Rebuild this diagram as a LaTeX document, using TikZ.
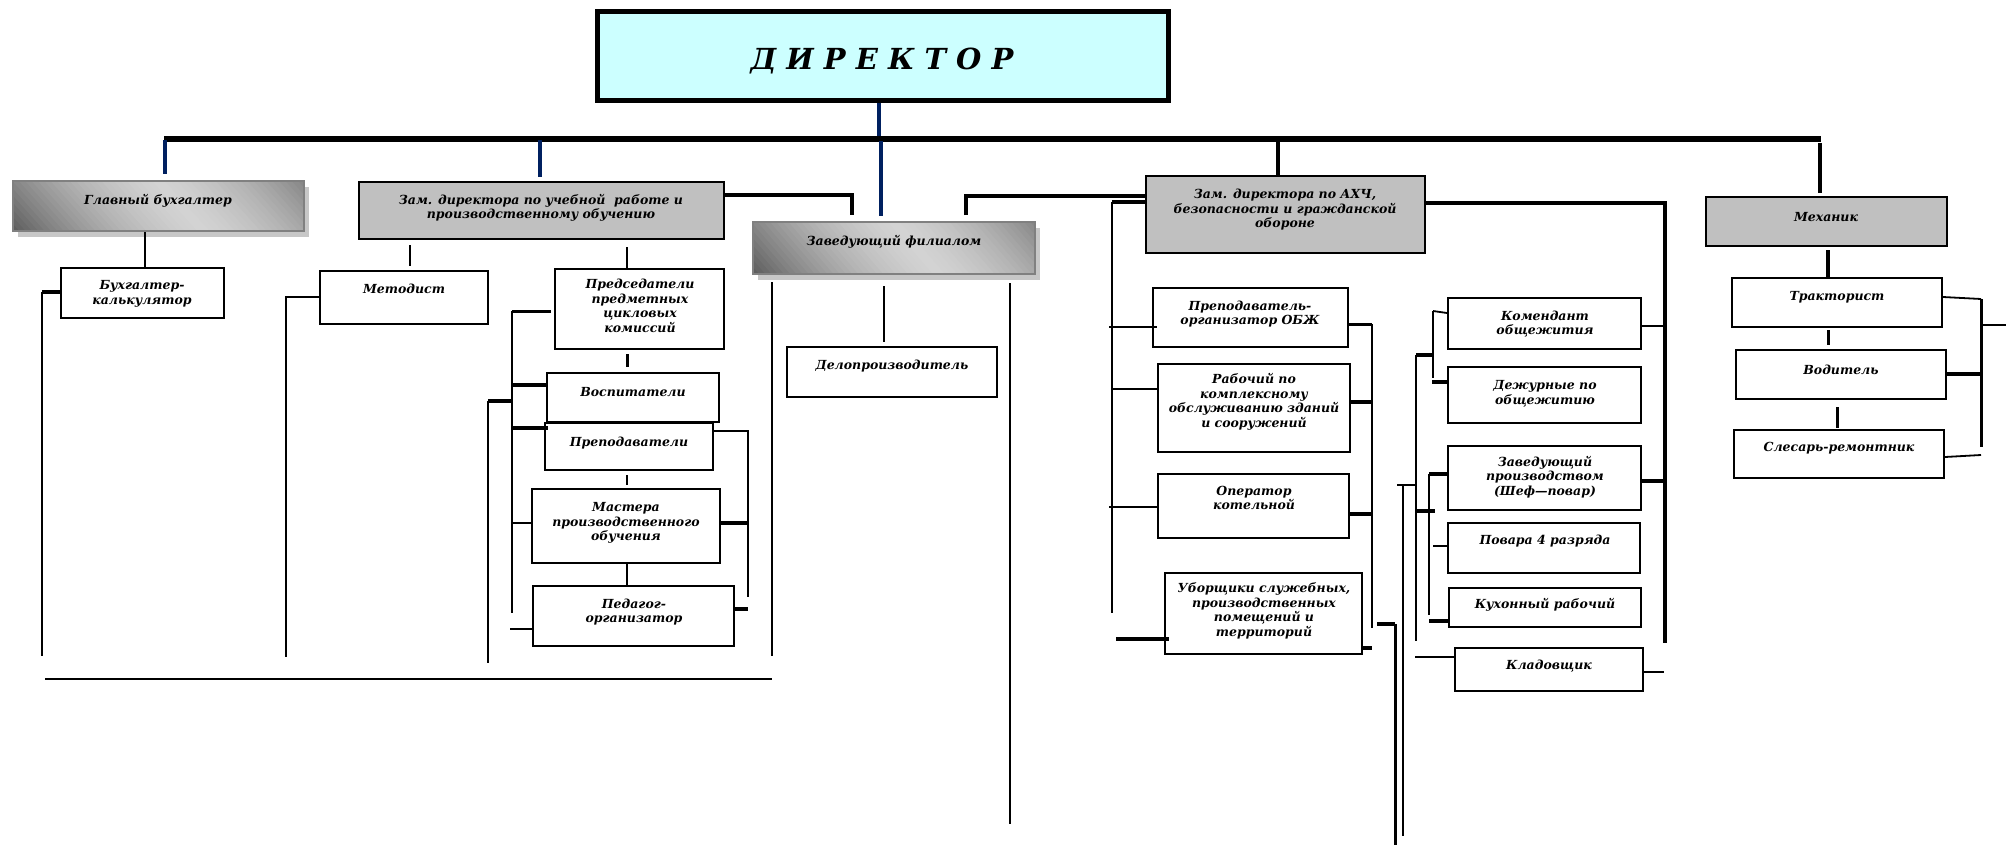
\documentclass[tikz,border=0pt]{standalone}
\usepackage{fontspec}
\setmainfont{DejaVu Serif}
\usetikzlibrary{fit}

\definecolor{dircyan}{HTML}{CCFFFF}
\definecolor{boxgrey}{HTML}{C0C0C0}
\definecolor{navyline}{RGB}{0,32,96}

\tikzset{
  box/.style={draw, line width=2pt, inner sep=0pt, fill=white},
  greybox/.style={box, fill=boxgrey},
  shadebox/.style={draw=black!50, line width=2pt, inner sep=0pt},
  boxshadow/.style={fill=black!22},
  lbl/.style={font=\bfseries\itshape\fontsize{12.5}{14.5}\selectfont, align=center, inner sep=0pt},
  thn/.style={line width=1.8pt},
  thk/.style={line width=3.5pt},
  bar/.style={line width=6pt},
  blueline/.style={line width=4pt, draw=navyline},
}

% metallic fill of a rectangle: x1, y1 (top), x2, y2 (bottom)
\newcommand\metalfill[4]{%
  \begin{scope}
    \clip (#1,#2) rectangle (#3,#4);
    \pgfmathsetmacro\sw{(#3-#1+90)/60}
    \foreach \i in {0,...,59} {
      \pgfmathsetmacro\av{abs(2*\i/59-1)}
      \pgfmathsetmacro\shadeval{17+46*(0.35*\av+0.65*\av*\av)}
      \pgfmathsetmacro\sx{#1-45+\sw*\i}
      \fill[black!\shadeval] (\sx,#2) -- ++(\sw+1,0) -- ++(45,{#4-#2}) -- ++(-\sw-1,0) -- cycle;
    }
  \end{scope}}

\begin{document}
\begin{tikzpicture}[x=1pt, y=-1pt]
  \useasboundingbox (0,0) rectangle (2006,854);

  % director
  \node[box, fill=dircyan, line width=5pt, fit={(597,11) (1168,100)}] (director) {};
  \node[lbl, font=\bfseries\itshape\fontsize{29}{34}\selectfont] (director-t) at (882,61) {Д И Р Е К Т О Р};
  \draw[blueline] (director.south -| 879,0) -- (879,136);
  \draw[bar] (164,139) -- (1821,139);

  % first level
  \fill[boxshadow] (18,187) rectangle (309,237);
  \metalfill{13}{181}{304}{231}
  \node[shadebox, fit={(13,181) (304,231)}] (glbuh) {};
  \node[lbl] (glbuh-t) at (158,201) {Главный бухгалтер};
  \node[greybox, fit={(359,182) (724,239)}] (zamuch) {};
  \node[lbl] (zamuch-t) at (541,208) {Зам. директора по учебной\ \ работе и\\производственному обучению};
  \fill[boxshadow] (758,228) rectangle (1040,280);
  \metalfill{753}{222}{1035}{274}
  \node[shadebox, fit={(753,222) (1035,274)}] (zavfil) {};
  \node[lbl] (zavfil-t) at (894,242) {Заведующий филиалом};
  \node[greybox, fit={(1146,176) (1425,253)}] (zamahch) {};
  \node[lbl] (zamahch-t) at (1285,210) {Зам. директора по АХЧ,\\безопасности и гражданской\\обороне};
  \node[greybox, fit={(1706,197) (1947,246)}] (mehanik) {};
  \node[lbl] (mehanik-t) at (1826,217) {Механик};

  \draw[blueline] (165,140) -- (165,174);
  \draw[blueline] (540,140) -- (540,177);
  \draw[blueline] (881,141) -- (881,216);
  \draw[line width=4pt] (1278,141) -- (1278,176);
  \draw[line width=4pt] (1820,143) -- (1820,193);

  % accounting
  \node[box, fit={(61,268) (224,318)}] (buhkalk) {};
  \node[lbl] (buhkalk-t) at (142,294) {Бухгалтер-\\калькулятор};
  \draw[thn] (glbuh.south -| 145,0) -- (buhkalk.north -| 145,0);
  \draw[line width=4pt] (buhkalk.west |- 0,292) -- (42,292);
  \draw[thn] (42,292) -- (42,656);

  % teaching
  \node[box, fit={(320,271) (488,324)}] (metod) {};
  \node[lbl] (metod-t) at (404,289) {Методист};
  \draw[thn] (410,245) -- (410,266);
  \draw[line width=2.5pt] (metod.west |- 0,297) -- (286,297) -- (286,657);

  \node[box, fit={(555,269) (724,349)}] (predsed) {};
  \node[lbl] (predsed-t) at (640,306) {Председатели\\предметных\\цикловых\\комиссий};
  \node[box, fit={(547,373) (719,422)}] (vospit) {};
  \node[lbl] (vospit-t) at (633,392) {Воспитатели};
  \node[box, fit={(545,423) (713,470)}] (prepod) {};
  \node[lbl] (prepod-t) at (629,443) {Преподаватели};
  \node[box, fit={(532,489) (720,563)}] (master) {};
  \node[lbl] (master-t) at (626,523) {Мастера\\производственного\\обучения};
  \node[box, fit={(533,586) (734,646)}] (pedorg) {};
  \node[lbl] (pedorg-t) at (634,612) {Педагог-\\организатор};

  \draw[thn] (627,247) -- (predsed.north -| 627,0);
  \draw[line width=3pt] (627,354) -- (627,367);
  \draw[thn] (627,475) -- (627,485);
  \draw[thn] (master.south -| 627,0) -- (pedorg.north -| 627,0);

  \draw[line width=2.5pt] (512,311) -- (512,613);
  \draw[line width=3pt] (512,311) -- (551,311);
  \draw[line width=4pt] (512,385) -- (vospit.west |- 0,385);
  \draw[line width=4pt] (512,428) -- (548,428);
  \draw[line width=2.5pt] (512,523) -- (master.west |- 0,523);
  \draw[line width=4pt] (488,401) -- (512,401);
  \draw[line width=2.5pt] (488,401) -- (488,663);
  \draw[line width=2.5pt] (510,629) -- (pedorg.west |- 0,629);

  \draw[line width=2.5pt] (prepod.east |- 0,431) -- (748,431) -- (748,597);
  \draw[line width=4pt] (master.east |- 0,523) -- (748,523);
  \draw[line width=4pt] (pedorg.east |- 0,609) -- (748,609);
  \draw[thk] (zamuch.east |- 0,195) -- (852,195) -- (852,215);

  % branch
  \node[box, fit={(787,347) (997,397)}] (delopr) {};
  \node[lbl] (delopr-t) at (892,366) {Делопроизводитель};
  \draw[thn] (884,286) -- (884,342);
  \draw[thn] (772,282) -- (772,656);
  \draw[thn] (45,679) -- (772,679);
  \draw[thn] (1010,283) -- (1010,824);
  \draw[thk] (966,215) -- (966,196) -- (zamahch.west |- 0,196);

  % household
  \draw[line width=4pt] (zamahch.west |- 0,202) -- (1112,202);
  \draw[line width=2.5pt] (1112,202) -- (1112,613);
  \node[box, fit={(1153,288) (1348,347)}] (prepobzh) {};
  \node[lbl] (prepobzh-t) at (1250,314) {Преподаватель-\\организатор ОБЖ};
  \node[box, fit={(1158,364) (1350,452)}] (rabochiy) {};
  \node[lbl] (rabochiy-t) at (1254,402) {Рабочий по\\комплексному\\обслуживанию зданий\\и сооружений};
  \node[box, fit={(1158,474) (1349,538)}] (operator) {};
  \node[lbl] (operator-t) at (1254,498) {Оператор\\котельной};
  \node[box, fit={(1165,573) (1362,654)}] (uborsh) {};
  \node[lbl] (uborsh-t) at (1264,611) {Уборщики служебных,\\производственных\\помещений и\\территорий};

  \draw[thn] (1109,327) -- (1157,327);
  \draw[line width=2.5pt] (1112,389) -- (rabochiy.west |- 0,389);
  \draw[line width=2.5pt] (1109,507) -- (operator.west |- 0,507);
  \draw[line width=4pt] (1116,639) -- (1169,639);

  \draw[line width=2.5pt] (1372,324) -- (1372,628);
  \draw[line width=3pt] (prepobzh.east |- 0,324) -- (1372,324);
  \draw[line width=4pt] (rabochiy.east |- 0,402) -- (1372,402);
  \draw[line width=4pt] (operator.east |- 0,514) -- (1372,514);
  \draw[line width=4pt] (uborsh.east |- 0,648) -- (1372,648);
  \draw[line width=4pt] (1377,624) -- (1395,624);
  \draw[line width=3pt] (1395,624) -- (1395,845);
  \draw[thn] (1397,485) -- (1415,485);
  \draw[thn] (1403,485) -- (1403,836);

  % dormitory and kitchen
  \node[box, fit={(1448,298) (1641,349)}] (komend) {};
  \node[lbl] (komend-t) at (1545,324) {Комендант\\общежития};
  \node[box, fit={(1448,367) (1641,423)}] (dezhur) {};
  \node[lbl] (dezhur-t) at (1545,394) {Дежурные по\\общежитию};
  \node[box, fit={(1448,446) (1641,510)}] (zavproizv) {};
  \node[lbl] (zavproizv-t) at (1545,477) {Заведующий\\производством\\(Шеф—повар)};
  \node[box, fit={(1448,523) (1640,573)}] (povar) {};
  \node[lbl] (povar-t) at (1545,541) {Повара 4 разряда};
  \node[box, fit={(1449,588) (1641,627)}] (kuhrab) {};
  \node[lbl] (kuhrab-t) at (1545,605) {Кухонный рабочий};
  \node[box, fit={(1455,648) (1643,691)}] (kladov) {};
  \node[lbl] (kladov-t) at (1549,666) {Кладовщик};

  \draw[line width=2.5pt] (1416,355) -- (1416,641);
  \draw[line width=4pt] (1416,355) -- (1433,355);
  \draw[line width=4pt] (1416,511) -- (1435,511);
  \draw[thn] (1433,311) -- (1433,378);
  \draw[thn] (1433,311) -- (komend.west |- 0,313);
  \draw[line width=4pt] (1432,382) -- (dezhur.west |- 0,382);
  \draw[line width=2.5pt] (1429,474) -- (1429,615);
  \draw[line width=4pt] (1429,474) -- (zavproizv.west |- 0,474);
  \draw[thn] (1433,546) -- (povar.west |- 0,546);
  \draw[line width=4pt] (1429,621) -- (kuhrab.west |- 0,621);
  \draw[thn] (1415,657) -- (kladov.west |- 0,657);

  \draw[thk] (zamahch.east |- 0,203) -- (1665,203) -- (1665,643);
  \draw[thn] (komend.east |- 0,326) -- (1665,326);
  \draw[line width=4pt] (zavproizv.east |- 0,481) -- (1665,481);
  \draw[thn] (kladov.east |- 0,672) -- (1664,672);

  % mechanic
  \node[box, fit={(1732,278) (1942,327)}] (traktor) {};
  \node[lbl] (traktor-t) at (1837,297) {Тракторист};
  \node[box, fit={(1736,350) (1946,399)}] (voditel) {};
  \node[lbl] (voditel-t) at (1841,370) {Водитель};
  \node[box, fit={(1734,430) (1944,478)}] (slesar) {};
  \node[lbl] (slesar-t) at (1839,448) {Слесарь-ремонтник};

  \draw[thk] (1828,250) -- (traktor.north -| 1828,0);
  \draw[line width=3pt] (1828,330) -- (1828,345);
  \draw[line width=3pt] (1837,407) -- (1837,428);
  \draw[thn] (traktor.east |- 0,297) -- (1981,299);
  \draw[line width=3pt] (1981,299) -- (1981,447);
  \draw[line width=4pt] (voditel.east |- 0,374) -- (1981,374);
  \draw[thn] (slesar.east |- 0,457) -- (1981,455);
  \draw[thn] (1981,325) -- (2006,325);
\end{tikzpicture}
\end{document}
